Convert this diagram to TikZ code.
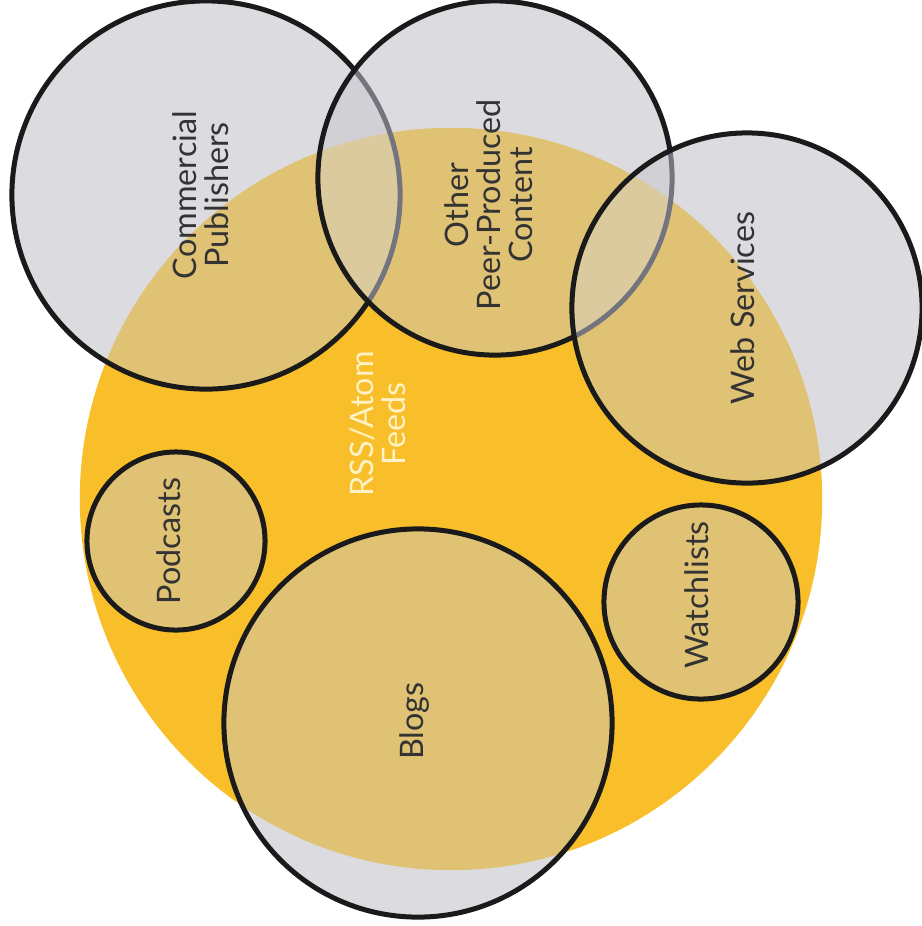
\documentclass[tikz,border=0pt]{standalone}
\usepackage{fontspec}
\setmainfont{Lato}
\definecolor{yel}{HTML}{F8BF2A}
\definecolor{gry}{HTML}{DCDCE0}
\definecolor{tanc}{HTML}{E0C275}
\definecolor{dgry}{HTML}{D0D0D5}
\definecolor{dtan}{HTML}{DACA9E}
\definecolor{dimc}{HTML}{74747E}
\definecolor{edgec}{HTML}{1A1A1A}
\definecolor{txt}{HTML}{333333}
\definecolor{rsstxt}{HTML}{FFF2C4}
\tikzset{
  ring/.style={draw=edgec, line width=0.05cm},
  dimring/.style={draw=dimc, line width=0.05cm},
  lbl/.style={rotate=90, align=center, text=txt, font=\fontsize{9.2}{9.1}\selectfont, inner sep=0pt},
}
\begin{document}
\begin{tikzpicture}[x=0.01cm,y=-0.01cm]
\useasboundingbox (0,0) rectangle (922,926);
\fill[white] (0,0) rectangle (922,926);
% centres
\coordinate (Y) at (451,499);
\coordinate (C) at (206,195);
\coordinate (O) at (495,178);
\coordinate (W) at (747,308);
\coordinate (P) at (176,541);
\coordinate (B) at (418,723);
\coordinate (L) at (701,602);
% big yellow disc
\fill[yel] (Y) circle[radius=3.71cm];
% Commercial Publishers
\fill[gry] (C) circle[radius=1.94cm];
\begin{scope}\clip (Y) circle[radius=3.71cm]; \fill[tanc] (C) circle[radius=1.94cm]; \end{scope}
\draw[ring] (C) circle[radius=1.94cm];
% Other Peer-Produced Content
\fill[gry] (O) circle[radius=1.77cm];
\begin{scope}\clip (Y) circle[radius=3.71cm]; \fill[tanc] (O) circle[radius=1.77cm]; \end{scope}
\begin{scope}\clip (O) circle[radius=1.77cm];
  \fill[dgry] (C) circle[radius=1.94cm];
  \begin{scope}\clip (Y) circle[radius=3.71cm]; \fill[dtan] (C) circle[radius=1.94cm]; \end{scope}
  \draw[dimring] (C) circle[radius=1.94cm];
\end{scope}
\draw[ring] (O) circle[radius=1.77cm];
% Web Services
\fill[gry] (W) circle[radius=1.75cm];
\begin{scope}\clip (Y) circle[radius=3.71cm]; \fill[tanc] (W) circle[radius=1.75cm]; \end{scope}
\begin{scope}\clip (W) circle[radius=1.75cm];
  \fill[dgry] (O) circle[radius=1.77cm];
  \begin{scope}\clip (Y) circle[radius=3.71cm]; \fill[dtan] (O) circle[radius=1.77cm]; \end{scope}
  \draw[dimring] (O) circle[radius=1.77cm];
\end{scope}
\draw[ring] (W) circle[radius=1.75cm];
% Podcasts, Blogs, Watchlists
\fill[gry] (P) circle[radius=0.89cm];
\fill[gry] (B) circle[radius=1.94cm];
\fill[gry] (L) circle[radius=0.97cm];
\begin{scope}\clip (Y) circle[radius=3.71cm];
  \fill[tanc] (P) circle[radius=0.89cm];
  \fill[tanc] (B) circle[radius=1.94cm];
  \fill[tanc] (L) circle[radius=0.97cm];
\end{scope}
\draw[ring] (P) circle[radius=0.89cm];
\draw[ring] (B) circle[radius=1.94cm];
\draw[ring] (L) circle[radius=0.97cm];
% labels
\node[lbl] (tc) at (201,195) {Commercial\\Publishers};
\node[lbl] (to) at (489,205) {Other\\Peer-Produced\\Content};
\node[lbl] (tw) at (743,308) {Web Services};
\node[lbl, text=rsstxt] (tr) at (378,424) {RSS/Atom\\Feeds};
\node[lbl] (tp) at (169,541) {Podcasts};
\node[lbl] (tb) at (415,721) {Blogs};
\node[lbl] (tl) at (697,595) {Watchlists};
\end{tikzpicture}
\end{document}
